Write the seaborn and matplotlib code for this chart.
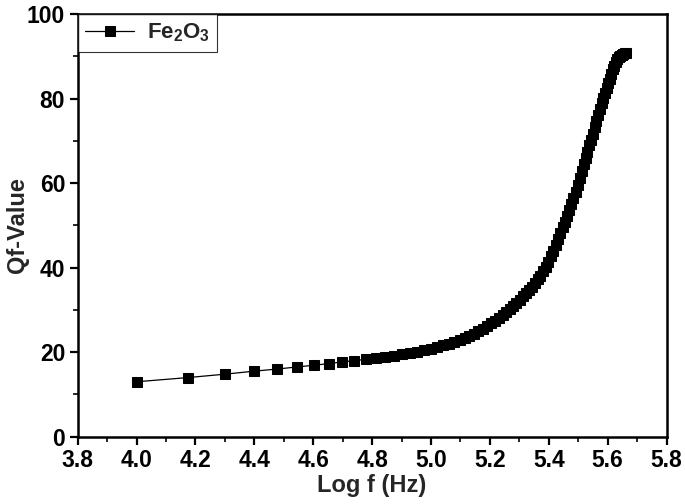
import matplotlib
matplotlib.use("Agg")
import matplotlib.pyplot as plt
import seaborn as sns
import pandas as pd
from matplotlib.ticker import MultipleLocator

log_f = [4.000, 4.176, 4.301, 4.398, 4.477, 4.544, 4.602, 4.653, 4.699, 4.740,
         4.778, 4.813, 4.845, 4.875, 4.903, 4.929, 4.954, 4.978, 5.000, 5.021,
         5.041, 5.061, 5.079, 5.097, 5.114, 5.130, 5.146, 5.161, 5.176, 5.190,
         5.204, 5.217, 5.230, 5.243, 5.255, 5.267, 5.279, 5.290, 5.301, 5.312,
         5.322, 5.332, 5.342, 5.352, 5.362, 5.371, 5.380, 5.389, 5.398, 5.407,
         5.415, 5.423, 5.431, 5.439, 5.447, 5.455, 5.462, 5.470, 5.477, 5.484,
         5.491, 5.498, 5.505, 5.512, 5.519, 5.525, 5.531, 5.538, 5.544, 5.550,
         5.556, 5.562, 5.568, 5.574, 5.580, 5.585, 5.591, 5.597, 5.602, 5.607,
         5.613, 5.618, 5.623, 5.628, 5.633, 5.638, 5.643, 5.648, 5.653, 5.658,
         5.663]
qf = [13.0, 14.0, 14.8, 15.5, 16.0, 16.5, 16.9, 17.3, 17.7, 18.0,
      18.3, 18.6, 18.9, 19.2, 19.5, 19.8, 20.1, 20.4, 20.8, 21.2,
      21.6, 22.0, 22.4, 22.9, 23.4, 23.9, 24.4, 25.0, 25.6, 26.2,
      26.8, 27.4, 28.1, 28.8, 29.5, 30.2, 30.9, 31.6, 32.4, 33.2,
      33.9, 34.7, 35.5, 36.3, 37.2, 38.1, 39.1, 40.2, 41.4, 42.7,
      44.0, 45.3, 46.7, 48.1, 49.5, 50.9, 52.2, 53.6, 55.0, 56.5,
      58.0, 59.6, 61.2, 62.9, 64.5, 65.9, 67.3, 68.9, 70.3, 71.7,
      73.2, 74.7, 76.1, 77.5, 78.9, 80.1, 81.4, 82.6, 83.7, 84.7,
      85.9, 86.9, 87.8, 88.6, 89.3, 89.8, 90.1, 90.4, 90.6, 90.7,
      90.8]
series_name = "Fe$_\\mathbf{2}$O$_\\mathbf{3}$"

xticks = [3.8, 4.0, 4.2, 4.4, 4.6, 4.8, 5.0, 5.2, 5.4, 5.6, 5.8]
yticks = [0, 20, 40, 60, 80, 100]

sns.set_style("ticks")
plt.rcParams['font.family'] = ['Liberation Sans', 'DejaVu Sans']
plt.rcParams['mathtext.fontset'] = 'custom'
plt.rcParams['mathtext.rm'] = 'Liberation Sans:bold'
plt.rcParams['mathtext.bf'] = 'Liberation Sans:bold'
plt.rcParams['mathtext.it'] = 'Liberation Sans:bold'

df = pd.DataFrame({"logf": log_f, "qf": qf, "name": series_name})

fig = plt.figure(figsize=(6.85, 5.04), dpi=100)
ax = fig.add_axes([0.1134, 0.1335, 0.8596, 0.8387])

sns.lineplot(data=df, x="logf", y="qf", hue="name", palette=["black"],
             marker="s", markersize=7, markeredgecolor="black",
             linewidth=0.9, ax=ax)

ax.set_xlim(3.8, 5.8)
ax.set_ylim(0, 100)
ax.set_xticks(xticks)
ax.set_xticklabels([f"{t:.1f}" for t in xticks])
ax.set_yticks(yticks)
ax.xaxis.set_minor_locator(MultipleLocator(0.1))
ax.yaxis.set_minor_locator(MultipleLocator(10))
ax.tick_params(which="major", direction="out", length=6, width=1.6,
               labelsize=16.5, colors="black", pad=3)
ax.tick_params(which="minor", direction="out", length=3.5, width=1.4)
for lab in ax.get_xticklabels() + ax.get_yticklabels():
    lab.set_fontweight("bold")
for s in ax.spines.values():
    s.set_linewidth(1.8)
    s.set_color("black")
    s.set_visible(True)

ax.set_xlabel("Log f (Hz)", fontsize=17, fontweight="bold", labelpad=1)
ax.set_ylabel("Qf-Value", fontsize=17, fontweight="bold")
ax.yaxis.set_label_coords(-0.083, 0.5)

leg = ax.legend(loc="upper left", bbox_to_anchor=(0.0, 1.0), frameon=True,
                fancybox=False, edgecolor="black", borderaxespad=0,
                prop={"weight": "bold", "size": 16}, handlelength=2.2,
                borderpad=0.35, handletextpad=0.55)
leg.get_frame().set_linewidth(0.8)

fig.savefig("out.png", dpi=100)
